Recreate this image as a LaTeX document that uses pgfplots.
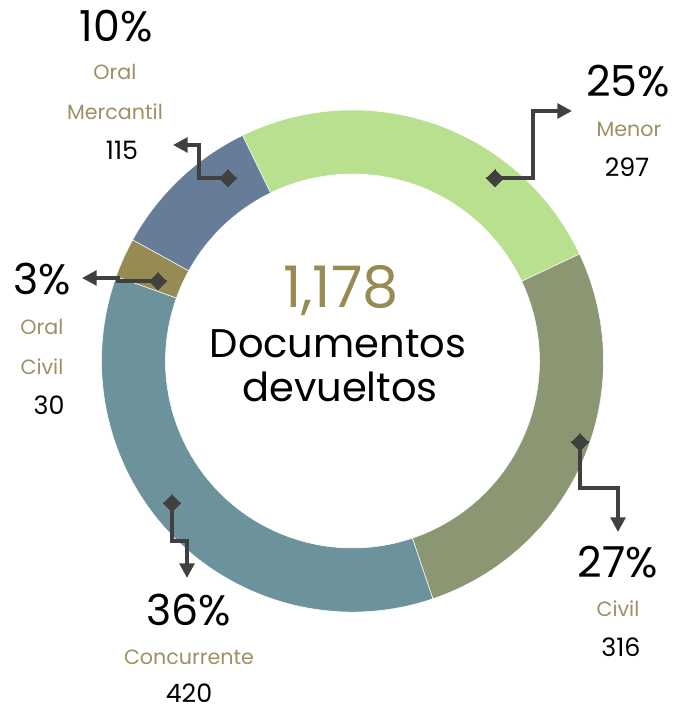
\documentclass[border=0pt]{standalone}
\usepackage{pgfplots}
\usepackage{pgfplotstable}
\pgfplotsset{compat=1.18}
\usetikzlibrary{arrows.meta}
\usepackage{fontspec}
\setmainfont{Poppins}
\definecolor{cMenor}{HTML}{B9E08E}
\definecolor{cCivil}{HTML}{8A9772}
\definecolor{cConc}{HTML}{6C939B}
\definecolor{cOC}{HTML}{958B53}
\definecolor{cOM}{HTML}{667C99}
\definecolor{lab}{HTML}{9C9163}
\definecolor{lead}{HTML}{404040}
\pgfplotstableread{
label value color
Menor 297 cMenor
Civil 316 cCivil
Concurrente 420 cConc
OralCivil 30 cOC
OralMercantil 115 cOM
}\datatable
\newcommand\pct{\fontsize{32}{34}\selectfont}
\newcommand\cat{\fontsize{15.5}{17}\selectfont\color{lab}}
\newcommand\val{\fontsize{19}{21}\selectfont}
\begin{document}
\begin{tikzpicture}
\begin{axis}[x=0.75pt,y=0.75pt,xmin=0,xmax=672,ymin=0,ymax=713,hide axis,clip=false,
  leader/.style={lead,line width=2.8pt,line join=miter,
    -{Triangle[length=11pt,width=11pt]},mark=square*,mark indices={1},
    mark size=4.4pt,mark options={solid,rotate=45,fill=lead,draw=lead,line width=0pt,-}}]
\pgfplotstablegetrowsof{\datatable}
\pgfmathtruncatemacro{\N}{\pgfplotsretval-1}
\def\cum{0}
\pgfplotsforeachungrouped \i in {0,...,\N}{%
  \pgfplotstablegetelem{\i}{value}\of\datatable \let\v\pgfplotsretval
  \pgfplotstablegetelem{\i}{color}\of\datatable \let\c\pgfplotsretval
  \pgfmathsetmacro{\a}{116-\cum/1178*360}%
  \pgfmathsetmacro{\b}{116-(\cum+\v)/1178*360}%
  \pgfmathsetmacro{\xa}{352.5+251*cos(\a)}%
  \pgfmathsetmacro{\ya}{352+251*sin(\a)}%
  \pgfmathsetmacro{\xb}{352.5+187*cos(\b)}%
  \pgfmathsetmacro{\yb}{352+187*sin(\b)}%
  \edef\cmd{\noexpand\fill[\c,draw=white,line width=0.4pt] (axis cs:\xa,\ya) arc[start angle=\a,end angle=\b,radius=188.25pt] -- (axis cs:\xb,\yb) arc[start angle=\b,end angle=\a,radius=140.25pt] -- cycle;}%
  \cmd
  \pgfmathsetmacro{\cum}{\cum+\v}%
}
% leader lines
\addplot[leader] coordinates {(228,535) (199,535) (199,568) (173,568)};
\addplot[leader] coordinates {(495,535) (533,535) (533,602) (572,602)};
\addplot[leader] coordinates {(158,432) (118,432) (118,435) (82,435)};
\addplot[leader] coordinates {(580,271) (580,225) (618,225) (618,181)};
\addplot[leader] coordinates {(172,210) (172,172) (187,172) (187,135)};
% labels
\node[anchor=base,font=\pct] at (axis cs:116,671) {10\%};
\node[anchor=base,font=\cat] at (axis cs:115,633) {Oral};
\node[anchor=base,font=\cat] at (axis cs:115,593) {Mercantil};
\node[anchor=base,font=\val] at (axis cs:122,553) {115};
\node[anchor=base,font=\pct] at (axis cs:628,616) {25\%};
\node[anchor=base,font=\cat] at (axis cs:629,576) {Menor};
\node[anchor=base,font=\val] at (axis cs:627,536) {297};
\node[anchor=base,font=\pct] at (axis cs:42,418) {3\%};
\node[anchor=base,font=\cat] at (axis cs:42,378) {Oral};
\node[anchor=base,font=\cat] at (axis cs:42,338) {Civil};
\node[anchor=base,font=\val] at (axis cs:49,298) {30};
\node[anchor=base,font=\pct] at (axis cs:618,135) {27\%};
\node[anchor=base,font=\cat] at (axis cs:618,96) {Civil};
\node[anchor=base,font=\val] at (axis cs:621,56) {316};
\node[anchor=base,font=\pct] at (axis cs:189,87) {36\%};
\node[anchor=base,font=\cat] at (axis cs:189,48) {Concurrente};
\node[anchor=base,font=\val,inner sep=1pt] at (axis cs:189,10) {420};
\node[anchor=base,font=\fontsize{43}{45}\selectfont,text=cOC] at (axis cs:341,405) {1,178};
\node[anchor=base,font=\fontsize{30}{32}\selectfont] at (axis cs:338,355) {Documentos};
\node[anchor=base,font=\fontsize{30}{32}\selectfont] at (axis cs:340,311) {devueltos};
\end{axis}
\pgfresetboundingbox
\path (current axis.south west) rectangle (current axis.north east);
\end{tikzpicture}
\end{document}
